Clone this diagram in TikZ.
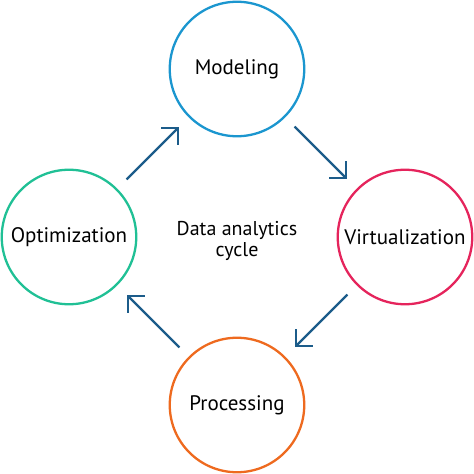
\documentclass[tikz,border=0pt]{standalone}
\usepackage{fontspec}
\setmainfont{PT Sans}
\usetikzlibrary{positioning,arrows.meta}
\definecolor{modblue}{HTML}{1B96CF}
\definecolor{virtred}{HTML}{E5245C}
\definecolor{procorange}{HTML}{EE6A1F}
\definecolor{optgreen}{HTML}{20C095}
\definecolor{arrblue}{HTML}{1C5C8A}

\begin{document}
\begin{tikzpicture} [x=1pt,y=1pt,
    stage/.style={circle,line width=2.3pt,minimum size=134.5pt,inner sep=0pt,
      font=\fontsize{21}{25}\selectfont},
    cyc/.style={draw=arrblue,line width=2.2pt,
      -{Straight Barb[length=12pt,width=24pt]},shorten <=13pt,shorten >=13pt},
    node distance=168pt, on grid]
    \useasboundingbox (0,0) rectangle (474,474);

    \node[stage,draw=modblue] (mod) at (237,405) {Modeling};
    \node[stage,draw=virtred,below right=168pt and 168pt of mod] (virt) {Virtualization};
    \node[stage,draw=procorange,below=336pt of mod] (proc) {Processing};
    \node[stage,draw=optgreen,below left=168pt and 168pt of mod] (opt) {Optimization};
    \node[align=center,font=\fontsize{20}{21.5}\selectfont,below=172pt of mod] (ctr)
      {Data analytics\\cycle};

      \path[cyc]
      (opt) edge (mod)
      (mod) edge (virt)
      (virt) edge (proc)
      (proc) edge (opt);
    \end{tikzpicture}
\end{document}
